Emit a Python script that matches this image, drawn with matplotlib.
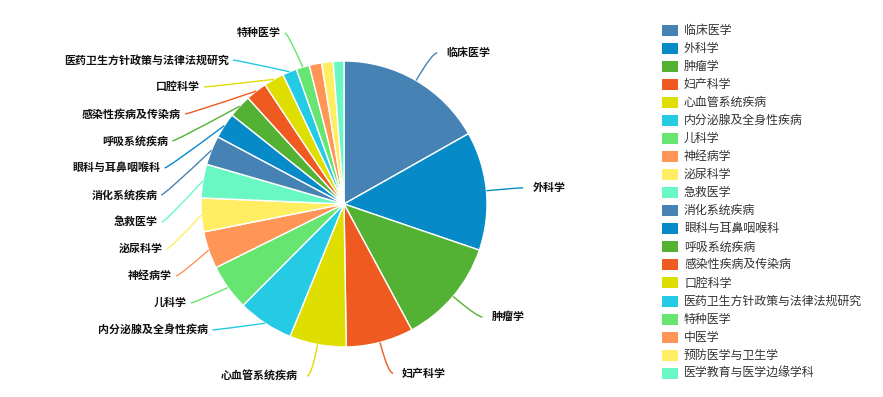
import numpy as np
import matplotlib
matplotlib.use("Agg")
import matplotlib.pyplot as plt
from matplotlib.path import Path
from matplotlib.patches import PathPatch, Rectangle

plt.rcParams['font.family'] = ['Noto Sans CJK SC', 'DejaVu Sans']

# ---- data -------------------------------------------------------------
categories = ['临床医学', '外科学', '肿瘤学', '妇产科学', '心血管系统疾病',
              '内分泌腺及全身性疾病', '儿科学', '神经病学', '泌尿科学', '急救医学',
              '消化系统疾病', '眼科与耳鼻咽喉科', '呼吸系统疾病', '感染性疾病及传染病',
              '口腔科学', '医药卫生方针政策与法律法规研究', '特种医学', '中医学',
              '预防医学与卫生学', '医学教育与医学边缘学科']
values = [168, 134, 119, 76, 64, 63, 52, 42, 38, 38,
          33, 29, 26, 24, 23, 16, 15, 14, 13, 12]
# slices too thin to carry an outside label
unlabeled = ['中医学', '预防医学与卫生学', '医学教育与医学边缘学科']

palette = ['#4682B4', '#078BC8', '#53B233', '#EE5A1F', '#DEDE00',
           '#25CAE4', '#66E570', '#FF9657', '#FFEE62', '#69F8C3']
colors = [palette[i % len(palette)] for i in range(len(categories))]

# ---- layout (pixel space, y up) ---------------------------------------
W, H = 883, 397
CX, CY = 344, H - 204
R = 143
R_ELBOW = 175        # natural label anchor radius
R_STACK = 180        # radius used for the stacked left column
LEN2, TEXT_GAP = 5, 9
LEN2_STACK, GAP_STACK = 3, 4
LEFT_TOP = 33        # first stacked label on the left (pixels from top)
LEFT_STEP = 27       # spacing of stacked left labels
LABEL_FS = 7.9

fig = plt.figure(figsize=(W / 100, H / 100), dpi=100)
ax = fig.add_axes([0, 0, 1, 1])

wedges, _ = ax.pie(values, colors=colors, startangle=90, counterclock=False,
                   center=(CX, CY), radius=R, frame=True,
                   wedgeprops=dict(edgecolor='white', linewidth=1))
ax.set_xlim(0, W)
ax.set_ylim(0, H)
ax.set_aspect('equal')
ax.axis('off')


def leader(i, ex, ey, nx, ny, sign, len2, gap):
    lx = nx + sign * len2
    path = Path([(ex, ey), (nx, ny), (lx, ny)],
                [Path.MOVETO, Path.CURVE3, Path.CURVE3])
    ax.add_patch(PathPatch(path, fc='none', ec=colors[i], lw=1))
    ax.text(lx + sign * gap, ny, categories[i], fontsize=LABEL_FS,
            fontweight='bold', color='#111111',
            ha='left' if sign > 0 else 'right', va='center')


# ---- outside labels with leader lines ---------------------------------
labeled = [i for i, c in enumerate(categories) if c not in unlabeled]
stack = []
for i in labeled:
    w = wedges[i]
    mid = np.deg2rad((w.theta1 + w.theta2) / 2)
    ex, ey = CX + R * np.cos(mid), CY + R * np.sin(mid)
    nx, ny = CX + R_ELBOW * np.cos(mid), CY + R_ELBOW * np.sin(mid)
    if np.cos(mid) >= 0:
        leader(i, ex, ey, nx, ny, 1, LEN2, TEXT_GAP)
    elif ny < CY - 160:
        # bottom label keeps its natural spot
        leader(i, ex, ey, nx, ny, -1, LEN2, TEXT_GAP)
    else:
        stack.append((i, ex, ey))

# left-hand labels stacked in an evenly spaced column
n = len(stack)
for k, (i, ex, ey) in enumerate(stack):
    y = H - (LEFT_TOP + LEFT_STEP * (n - 1 - k))
    dy = y - CY
    nx = CX - np.sqrt(max(R_STACK ** 2 - dy ** 2, 0))
    leader(i, ex, ey, nx, y, -1, LEN2_STACK, GAP_STACK)

# ---- legend -----------------------------------------------------------
LEG_X, LEG_TOP, LEG_STEP = 662, 30, 18.07
for i, name in enumerate(categories):
    yc = H - (LEG_TOP + i * LEG_STEP)
    ax.add_patch(Rectangle((LEG_X, yc - 5.5), 16, 11, fc=colors[i], ec='none'))
    ax.text(LEG_X + 22, yc, name, fontsize=8.6, color='#333333',
            ha='left', va='center')

fig.savefig('out.png', dpi=100)
